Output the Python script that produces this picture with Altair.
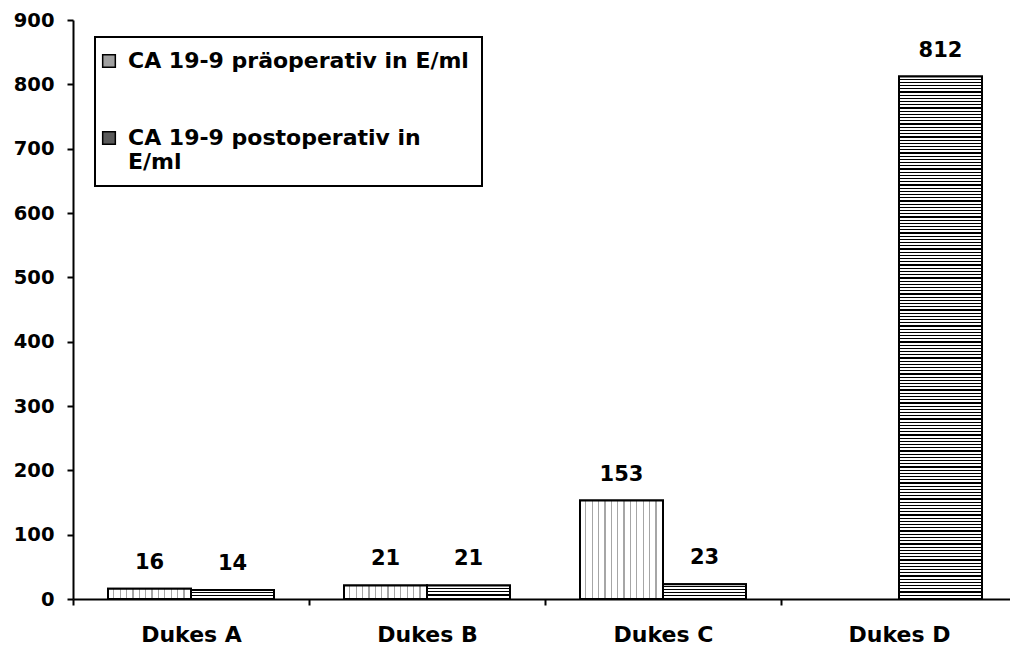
import altair as alt

# Tumour marker CA 19-9 by Dukes stage, before and after surgery
categories = ["Dukes A", "Dukes B", "Dukes C", "Dukes D"]
series = ["CA 19-9 präoperativ in E/ml", "CA 19-9 postoperativ in E/ml"]
pre_values = [16, 21, 153, None]
post_values = [14, 21, 23, 812]
y_ticks = [0, 100, 200, 300, 400, 500, 600, 700, 800, 900]

# Layout constants (pixels)
PLOT_W = 937
PLOT_H = 579
Y_MAX = 900
BAND_PX = 236
OFFSET_PAD = 0.4217
BAR_PX = BAND_PX / (2 + 2 * OFFSET_PAD)
FONT = "DejaVu Sans"


def stripe_fill(length_px, period_px, line_px, line_color, vertical):
    """Linear gradient with hard stops that imitates a hatch pattern."""
    n = max(1, round(length_px / period_px))
    lf = min(line_px / max(length_px, 1e-6), 0.5 / n)
    stops = []
    for i in range(n):
        a = i / n
        b = (i + 1) / n
        stops += [
            {"offset": a, "color": "white"},
            {"offset": b - lf, "color": "white"},
            {"offset": b - lf, "color": line_color},
            {"offset": b, "color": line_color},
        ]
    g = {"gradient": "linear", "x1": 0, "y1": 0, "stops": stops}
    if vertical:
        g.update({"x2": 0, "y2": 1})
    else:
        g.update({"x2": 1, "y2": 0})
    return g


records = []
for cat, pre, post in zip(categories, pre_values, post_values):
    if pre is not None:
        records.append({
            "category": cat, "series": series[0], "value": pre,
            # dotted columns
            "grad": stripe_fill(BAR_PX, 6.4, 1.2, "#a6a6a6", vertical=False),
        })
    if post is not None:
        h = post * PLOT_H / Y_MAX
        records.append({
            "category": cat, "series": series[1], "value": post,
            # horizontal hatching
            "grad": stripe_fill(h, 3.2, 1.2, "black", vertical=True),
        })

data = alt.Data(values=records)

base = alt.Chart(data).encode(
    x=alt.X(
        "category:N",
        sort=categories,
        scale=alt.Scale(domain=categories, range=[0, 4 * BAND_PX],
                        paddingInner=0, paddingOuter=0),
        axis=alt.Axis(
            title=None, labelAngle=0, labelFont=FONT, labelFontWeight="bold",
            labelFontSize=22, labelColor="black", labelPadding=19,
            tickBand="extent", tickSize=6, tickWidth=2, tickColor="black",
            domainColor="black", domainWidth=2, grid=False,
        ),
    ),
    xOffset=alt.XOffset(
        "series:N",
        sort=series,
        scale=alt.Scale(domain=series, paddingInner=0, paddingOuter=OFFSET_PAD),
    ),
    y=alt.Y(
        "value:Q",
        scale=alt.Scale(domain=[0, Y_MAX], nice=False),
        axis=alt.Axis(
            title=None, values=y_ticks, labelFont=FONT, labelFontWeight="bold",
            labelFontSize=19.5, labelColor="black", labelPadding=13,
            tickSize=6, tickWidth=2, tickColor="black",
            domainColor="black", domainWidth=2, grid=False,
        ),
    ),
)

legend_bars = base.mark_bar(stroke="black", strokeWidth=2).encode(
    fill=alt.Fill(
        "series:N",
        scale=alt.Scale(domain=series, range=["#a0a0a0", "#5a5a5a"]),
        legend=alt.Legend(
            title=None, orient="none", legendX=22, legendY=17,
            direction="vertical", symbolType="square", symbolSize=160,
            symbolStrokeColor="black", symbolStrokeWidth=1.5,
            symbolOffset=-10,
            labelFont=FONT, labelFontWeight="bold", labelFontSize=22,
            labelColor="black", labelLimit=600, labelOffset=8,
            padding=13, rowPadding=55, strokeColor="black",
            labelExpr=(
                "datum.label == 'CA 19-9 postoperativ in E/ml' ? "
                "['CA 19-9 postoperativ in', 'E/ml'] : datum.label"
            ),
        ),
    )
)

hatched_bars = base.mark_bar(stroke="black", strokeWidth=2).encode(
    fill=alt.Fill("grad:N", scale=None, legend=None)
)

value_labels = base.mark_text(
    dy=-20, baseline="alphabetic", align="center", font=FONT,
    fontWeight="bold", fontSize=21, color="black",
).encode(text="value:Q")

chart = (
    alt.layer(legend_bars, hatched_bars, value_labels)
    .resolve_scale(fill="independent")
    .resolve_legend(fill="independent")
    .properties(
        width=PLOT_W,
        height=PLOT_H,
        autosize=alt.AutoSizeParams(type="none"),
        padding={"left": 73, "top": 20, "right": 0, "bottom": 53},
        background="white",
    )
    .configure_view(strokeWidth=0)
    .configure_legend(strokeWidth=2)
)

chart.save("out.html", embed_options={"renderer": "svg", "actions": False})
